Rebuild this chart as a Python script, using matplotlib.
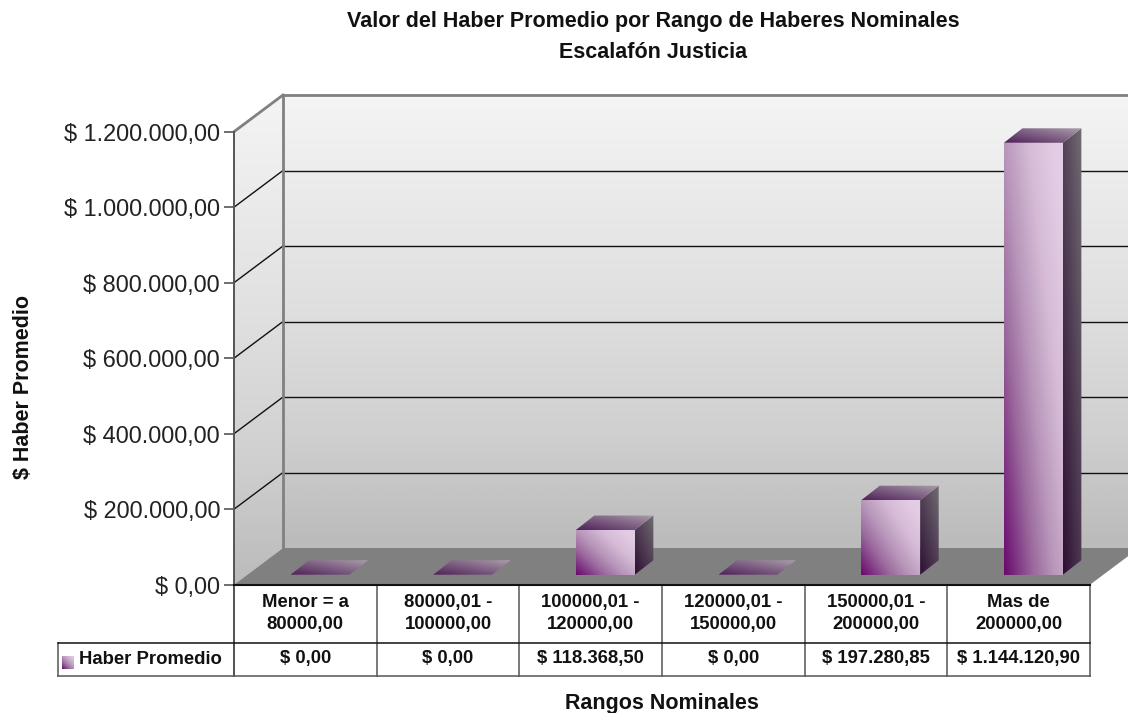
import numpy as np
import matplotlib
matplotlib.use('Agg')
import matplotlib.pyplot as plt
from matplotlib.colors import LinearSegmentedColormap
from matplotlib.patches import Polygon
from matplotlib.ticker import FuncFormatter

# Datos del grafico
categorias = ['Menor = a\n80000,00', '80000,01 -\n100000,00', '100000,01 -\n120000,00',
              '120000,01 -\n150000,00', '150000,01 -\n200000,00', 'Mas de\n200000,00']
valores = [0.0, 0.0, 118368.50, 0.0, 197280.85, 1144120.90]
etiquetas_valores = ['$ 0,00', '$ 0,00', '$ 118.368,50', '$ 0,00', '$ 197.280,85', '$ 1.144.120,90']
marcas_y = [0, 200000, 400000, 600000, 800000, 1000000, 1200000]
serie = 'Haber Promedio'

W, H = 1128, 713
plt.rcParams['font.family'] = ['Liberation Sans', 'DejaVu Sans']

# Caja frontal del grafico, en pixeles
x0, x1 = 234.0, 1090.0
y0, y1 = 584.7, 131.7
fig = plt.figure(figsize=(W / 100, H / 100), dpi=100)
ax = fig.add_axes([x0 / W, 1 - y0 / H, (x1 - x0) / W, (y0 - y1) / H])
ax.set_xlim(0, len(categorias))
ax.set_ylim(0, 1200000)
ax.patch.set_visible(False)


# Pasar de pixeles de la figura a unidades de datos (solo para decoracion)
def X(px):
    return (px - x0) / (x1 - x0) * len(categorias)


def Y(py):
    return (y0 - py) / (y0 - y1) * 1200000


def DX(px):
    return px / (x1 - x0) * len(categorias)


def DY(py):
    return py / (y0 - y1) * 1200000


def degradado(puntos, colores, pu=0.5, pv=0.5, z=3):
    # Rellena un poligono con un degradado en diagonal
    puntos = np.array(puntos)
    mapa = LinearSegmentedColormap.from_list('g', colores)
    u, v = np.meshgrid(np.linspace(0, 1, 64), np.linspace(0, 1, 64))
    ext = [puntos[:, 0].min(), puntos[:, 0].max(), puntos[:, 1].min(), puntos[:, 1].max()]
    im = ax.imshow(pu * u + pv * v, origin='lower', extent=ext, aspect='auto', cmap=mapa,
                   vmin=0, vmax=1, zorder=z, interpolation='bilinear')
    pol = Polygon(puntos, closed=True, transform=ax.transData)
    im.set_clip_box(fig.bbox)
    im.set_clip_path(pol)


# Colores de los degradados
pared = [(0, '#bbbbbb'), (0.24, '#cfcfcf'), (0.55, '#e0e0e0'), (1, '#f4f4f4')]
frente = [(0, '#690a6e'), (0.3, '#9b6a9d'), (0.5, '#b896ba'), (0.75, '#d6bbd6'), (1, '#e3cde5')]
costado = ['#2e0f34', '#716c73']
tapa = ['#50205a', '#aa9eaa']

# Paredes y piso
prof_x, prof_y = DX(49), DY(36.7)
xder = X(W + 2)
degradado([(prof_x, prof_y), (xder, prof_y), (xder, 1200000 + prof_y), (prof_x, 1200000 + prof_y)],
          pared, 0, 1, z=0)
degradado([(0, 0), (prof_x, prof_y), (prof_x, 1200000 + prof_y), (0, 1200000)],
          pared, 0, 1, z=0)
ax.add_patch(Polygon([(0, 0), (prof_x, prof_y), (6 + prof_x, prof_y), (6, 0)], closed=True,
                     facecolor='#808080', edgecolor='none', zorder=1, clip_on=False))

for m in marcas_y[1:-1]:
    ax.plot([0, prof_x], [m, m + prof_y], color='#111111', lw=1, zorder=1, clip_on=False)
    ax.plot([prof_x, xder], [m + prof_y, m + prof_y], color='#111111', lw=1, zorder=1, clip_on=False)

gris = '#808080'
ax.plot([0, prof_x], [1200000, 1200000 + prof_y], color=gris, lw=2, zorder=2, clip_on=False)
ax.plot([prof_x, xder], [1200000 + prof_y] * 2, color=gris, lw=2, zorder=2, clip_on=False)
ax.plot([prof_x, prof_x], [prof_y, 1200000 + prof_y], color=gris, lw=2, zorder=2, clip_on=False)

# Barras: frente, costado y tapa
ancho = DX(59)
desp_x, base = DX(14.7), DY(10)
bar_dx, bar_dy = DX(18.5), DY(14.5)
for i, v in enumerate(valores):
    izq = i + 0.5 + desp_x - ancho / 2
    der = izq + ancho
    arr = base + v
    if v > 0:
        degradado([(izq, base), (der, base), (der, arr), (izq, arr)], frente, 0.6, 0.5)
        degradado([(der, base), (der + bar_dx, base + bar_dy), (der + bar_dx, arr + bar_dy), (der, arr)],
                  costado, 0.45, 0.55)
    degradado([(izq, arr), (der, arr), (der + bar_dx, arr + bar_dy), (izq + bar_dx, arr + bar_dy)],
              tapa, 0.5, 0.5, z=3)

# Eje y
ax.set_xticks([])
ax.set_yticks(marcas_y)
ax.yaxis.set_major_formatter(FuncFormatter(
    lambda v, pos: '$ ' + f'{v:,.2f}'.replace(',', 'x').replace('.', ',').replace('x', '.')))
ax.tick_params(axis='y', length=7, width=1.2, color='#555555', labelsize=16.9, labelcolor='#222222', pad=3)
for lado in ['top', 'right', 'bottom']:
    ax.spines[lado].set_visible(False)
ax.spines['left'].set_color('#555555')
ax.spines['left'].set_linewidth(1.4)

# Tabla de datos
fila1, fila2 = 643.0, 676.0
xtabla = X(58)
for i in range(1, len(categorias) + 1):
    ax.plot([i, i], [0, Y(fila2)], color='#555555', lw=1.1, zorder=4, clip_on=False)
ax.plot([0, 0], [0, Y(fila2)], color='#222222', lw=1.1, zorder=4, clip_on=False)
ax.plot([xtabla, xtabla], [Y(fila1), Y(fila2)], color='#555555', lw=1.1, zorder=4, clip_on=False)
ax.plot([0, 6], [0, 0], color='#111111', lw=1.5, zorder=4, clip_on=False)
ax.plot([xtabla, 6], [Y(fila1)] * 2, color='#111111', lw=1.1, zorder=4, clip_on=False)
ax.plot([xtabla, 6], [Y(fila2)] * 2, color='#555555', lw=1.1, zorder=4, clip_on=False)

for i, (c, e) in enumerate(zip(categorias, etiquetas_valores)):
    ax.text(i + 0.5, Y(613.5), c, ha='center', va='center', fontsize=13.3, fontweight='bold',
            color='#111111', linespacing=1.4)
    ax.text(i + 0.5, Y(659), e, ha='center', va='center', fontsize=13.3, fontweight='bold', color='#111111')
ax.text(X(79), Y(660), serie, ha='left', va='center', fontsize=13.3, fontweight='bold', color='#111111')
degradado([(X(62), Y(669)), (X(74), Y(669)), (X(74), Y(656)), (X(62), Y(656))], frente, 0.5, 0.5, z=5)

# Titulos
ax.text(X(653), Y(37), 'Valor del Haber Promedio por Rango de Haberes Nominales\nEscalafón Justicia',
        ha='center', va='center', fontsize=15.5, fontweight='bold', color='#111111', linespacing=1.6)
ax.text(X(662), Y(703), 'Rangos Nominales', ha='center', va='center', fontsize=15.5, fontweight='bold', color='#111111')
ax.text(X(24), Y(387), '$ Haber Promedio', ha='center', va='center', rotation=90, fontsize=15.5,
        fontweight='bold', color='#111111')

fig.savefig('out.png', dpi=100)
